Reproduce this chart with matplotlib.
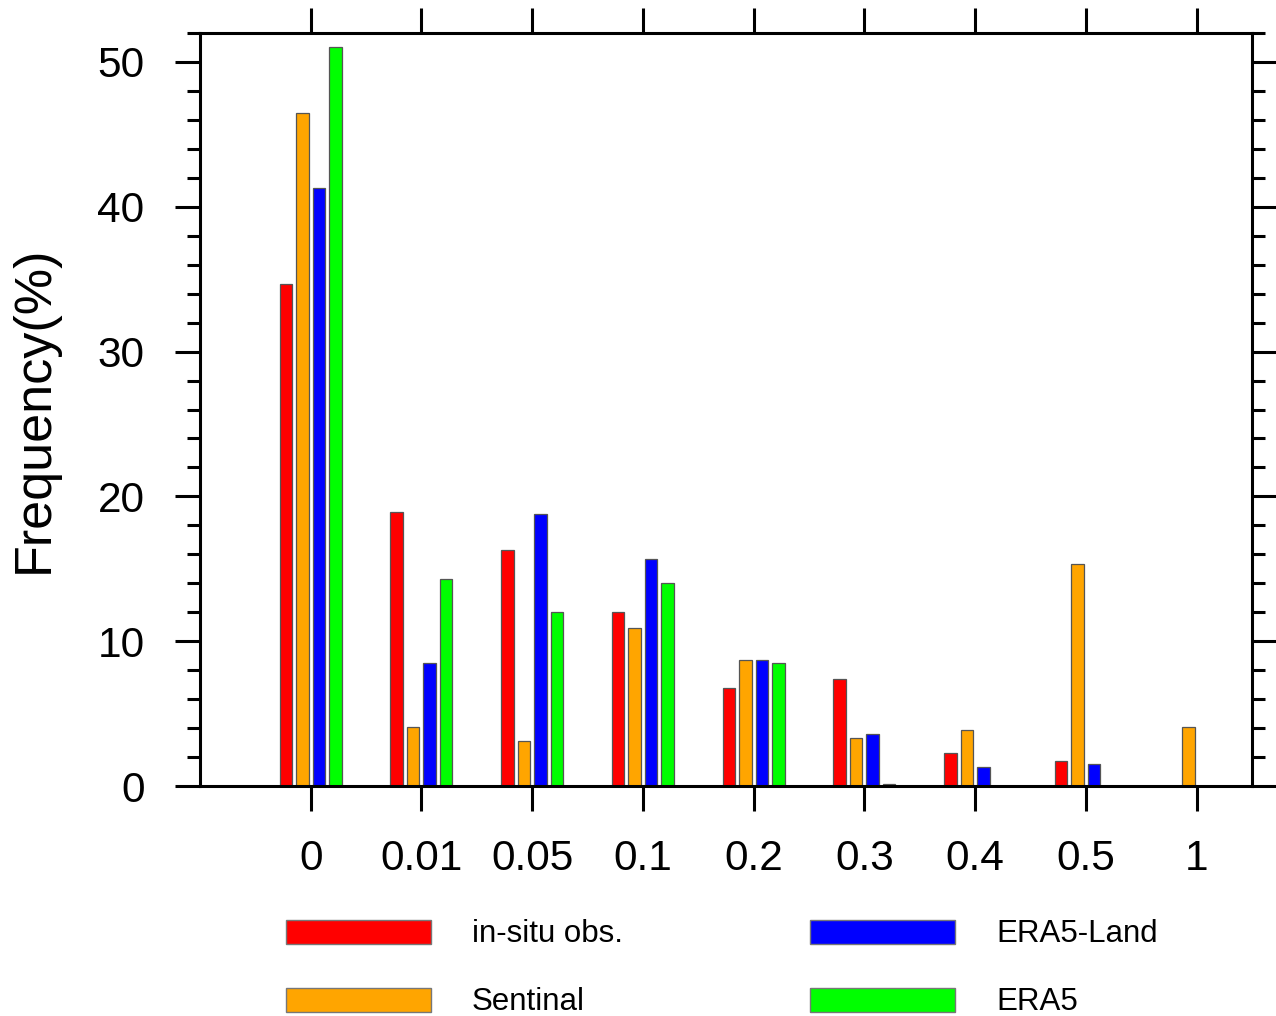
import matplotlib
matplotlib.use('Agg')
import matplotlib.pyplot as plt
from matplotlib.patches import Rectangle
from matplotlib.ticker import MultipleLocator
import numpy as np

plt.rcParams['font.family'] = ['Liberation Sans', 'DejaVu Sans']

categories = ['0', '0.01', '0.05', '0.1', '0.2', '0.3', '0.4', '0.5', '1']
series_names = ['in-situ obs.', 'Sentinal', 'ERA5-Land', 'ERA5']
insitu = [34.7, 18.9, 16.3, 12.0, 6.8, 7.4, 2.3, 1.7, 0.0]
sentinal = [46.5, 4.1, 3.1, 10.9, 8.7, 3.3, 3.9, 15.3, 4.1]
era5_land = [41.3, 8.5, 18.8, 15.7, 8.7, 3.6, 1.3, 1.5, 0.0]
era5 = [51.0, 14.3, 12.0, 14.0, 8.5, 0.15, 0.0, 0.0, 0.0]
colors = ['#ff0000', '#ffa500', '#0000ff', '#00ff00']

fig = plt.figure(figsize=(12.76, 10.16), dpi=100)
ax = fig.add_axes([200 / 1276, 1 - 786 / 1016, 1052 / 1276, 753 / 1016])

x = np.arange(1, len(categories) + 1)
step = 0.149
width = 0.113
for i, (vals, c) in enumerate(zip([insitu, sentinal, era5_land, era5], colors)):
    ax.bar(x + (i - 1.5) * step, vals, width=width, color=c,
           edgecolor='#555555', linewidth=0.9, zorder=2)

ax.set_xlim(0, 9.5)
ax.set_ylim(0, 52)
ax.set_xticks(x)
ax.set_xticklabels(categories)
ax.yaxis.set_major_locator(MultipleLocator(10))
ax.yaxis.set_minor_locator(MultipleLocator(2))

for s in ax.spines.values():
    s.set_linewidth(2.2)
    s.set_zorder(3)

ax.tick_params(axis='both', which='major', direction='out', length=18, width=2.2,
               labelsize=30.5, top=True, right=True)
ax.tick_params(axis='y', which='minor', direction='out', length=9.5, width=2.2,
               right=True)
ax.tick_params(axis='x', which='minor', bottom=False, top=False)
ax.tick_params(axis='x', pad=20)
ax.tick_params(axis='y', pad=22)
ax.set_ylabel('Frequency(%)', fontsize=37.5, labelpad=28)

# legend drawn in figure pixel units
W, H = 1276, 1016
legend_pos = [(286, 932), (286, 1000), (810, 932), (810, 1000)]
for (px, py), name, c in zip(legend_pos, series_names, colors):
    fig.patches.append(Rectangle((px / W, 1 - (py + 12) / H), 145 / W, 24 / H,
                                 transform=fig.transFigure, facecolor=c,
                                 edgecolor='#777777', linewidth=1.0))
    fig.text((px + 186) / W, 1 - (py + 2) / H, name, fontsize=22.5,
             va='center', ha='left')

fig.savefig('out.png', dpi=100)
